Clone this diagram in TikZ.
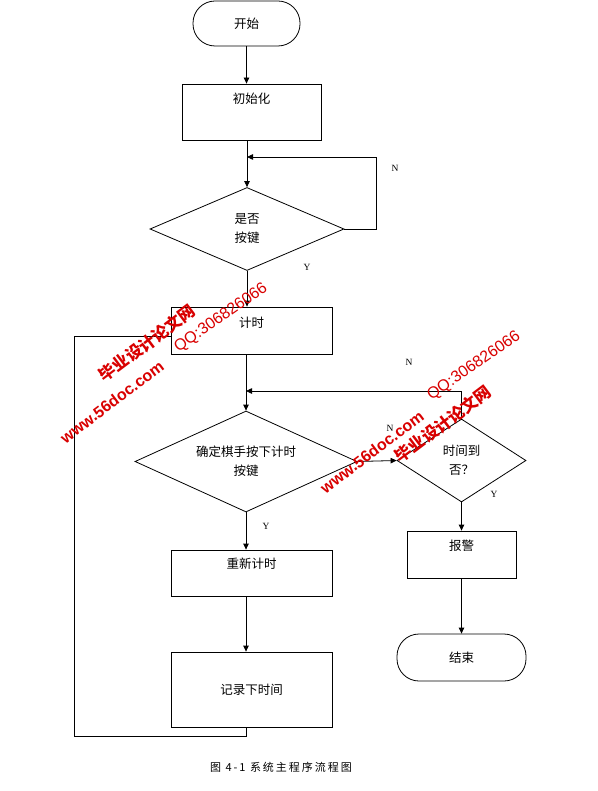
\documentclass[tikz,border=0pt]{standalone}
\usepackage{fontspec}
\newfontfamily\cjk{Noto Sans CJK SC}
\newfontfamily\serifL{Liberation Serif}
\newfontfamily\sansL{Liberation Sans}
\usetikzlibrary{shapes.geometric,arrows.meta}
\begin{document}
\begin{tikzpicture}[x=1pt,y=-1pt,
  line width=0.8pt,
  arr/.style={-{Triangle[length=6pt,width=5.5pt]}},
  box/.style={draw,rectangle,inner sep=0pt},
  term/.style={draw,rectangle,rounded corners=22pt,inner sep=0pt,font=\cjk\fontsize{12.5}{15}\selectfont},
  dec/.style={draw,diamond,inner sep=0pt,align=center,font=\cjk\fontsize{12.5}{19}\selectfont},
  toplbl/.style={anchor=north,inner sep=0pt,font=\cjk\fontsize{12.5}{15}\selectfont},
  yn/.style={font=\serifL\fontsize{9.5}{11}\selectfont,inner sep=0pt},
  wm/.style={text=red!85!black,inner sep=0pt,rotate=37}]
\useasboundingbox (0,0) rectangle (597,791);
\fill[white] (0,0) rectangle (597,791);
% nodes
\node[term,minimum width=107pt,minimum height=45pt] (start) at (246.5,23.5) {开始};
\node[box,minimum width=139pt,minimum height=56pt,
  label={[toplbl,yshift=-9pt]north:初始化}] (init) at (251.5,112) {};
\node[dec,aspect=2.34,minimum width=194pt,minimum height=83pt] (d1) at (247,229) {是否\\按键};
\node[box,minimum width=161pt,minimum height=47pt,
  label={[toplbl,yshift=-10pt]north:计时}] (timer) at (251.5,330.5) {};
\node[dec,aspect=2.2,minimum width=222pt,minimum height=101pt] (d2) at (246,461.5) {确定棋手按下计时\\按键};
\node[dec,aspect=1.55,minimum width=129pt,minimum height=83pt] (d3) at (461.5,460.5) {时间到\\否？};
\node[box,minimum width=161pt,minimum height=46pt,
  label={[toplbl,yshift=-8pt]north:重新计时}] (reset) at (251.5,573) {};
\node[box,minimum width=161pt,minimum height=75pt,font=\cjk\fontsize{12.5}{15}\selectfont] (record) at (251.5,689.5) {记录下时间};
\node[box,minimum width=109pt,minimum height=47pt,
  label={[toplbl,yshift=-9pt]north:报警}] (alarm) at (461.5,554.5) {};
\node[term,minimum width=129pt,minimum height=47pt] (end) at (461.5,657.5) {结束};
% helper coordinates
\coordinate (nr) at (376,157);
\coordinate (m1) at (247,157);
\coordinate (m2) at (246,391);
\coordinate (lb) at (74,736);
\coordinate (lt) at (74,336);
% connectors
\draw[arr] (start.south) -- (start.south |- init.north);
\draw[arr] (d1.north |- init.south) -- (d1.north);
\draw[arr] (d1.east) -| (nr) -- (m1);
\draw[arr] (d1.south) -- (d1.south |- timer.north);
\draw[arr] (d2.north |- timer.south) -- (d2.north);
\draw[arr] (d3.north) |- (m2);
\draw[arr] (d2.east) -- (d3.west);
\draw[arr] (d2.south) -- (d2.south |- reset.north);
\draw[arr] (reset.south -| d2.south) -- (record.north -| d2.south);
\draw (record.south -| d2.south) |- (lb) -- (lt) -- (lt -| timer.west);
\draw[arr] (d3.south) -- (alarm.north -| d3.south);
\draw[arr] (alarm.south -| d3.south) -- (end.north -| d3.south);
% labels
\node[yn] (n1) at (395,168) {N};
\node[yn] (y1) at (307,267) {Y};
\node[yn] (n2) at (409,362) {N};
\node[yn] (n3) at (390,428) {N};
\node[yn] (y2) at (266,526) {Y};
\node[yn] (y3) at (494,494) {Y};
% caption
\node[inner sep=0pt,font=\cjk\fontsize{11}{13}\selectfont\addfontfeature{LetterSpace=18}] (cap) at (281,767) {图 4-1 系统主程序流程图};
% watermarks
\node[wm,font=\sansL\bfseries\fontsize{16}{18}\selectfont] (w1) at (112,402) {www.56doc.com};
\node[wm,font=\cjk\bfseries\fontsize{16.5}{18}\selectfont] (w2) at (147,343) {毕业设计论文网};
\node[wm,font=\sansL\fontsize{16}{18}\selectfont,rotate=-2] (w3) at (221,318) {QQ:306826066};
\node[wm,font=\sansL\bfseries\fontsize{16}{18}\selectfont] (w4) at (372,452) {www.56doc.com};
\node[wm,font=\cjk\bfseries\fontsize{16.5}{18}\selectfont] (w5) at (443,424) {毕业设计论文网};
\node[wm,font=\sansL\fontsize{16}{18}\selectfont,rotate=-2] (w6) at (474,366) {QQ:306826066};
\end{tikzpicture}
\end{document}
